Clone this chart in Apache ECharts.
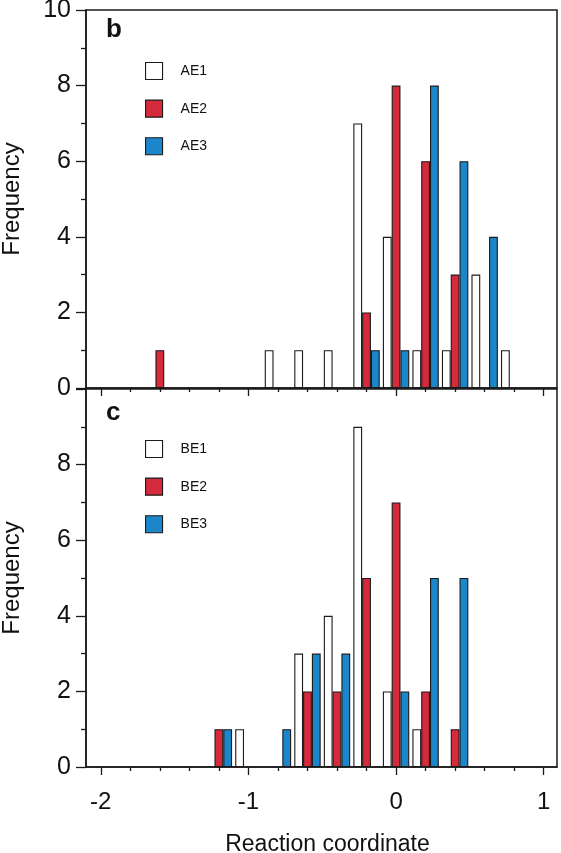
<!DOCTYPE html>
<html>
<head>
<meta charset="utf-8">
<script src="https://cdn.jsdelivr.net/npm/echarts@6/dist/echarts.min.js"></script>
<style>
html,body{margin:0;padding:0;background:#fff;}
#c{width:561px;height:853px;}
</style>
</head>
<body>
<div id="c"></div>
<script>
// ---- data (bin centres = reaction coordinate, counts = frequency) ----
const ae1Bins = [-0.8, -0.6, -0.4, -0.2, 0, 0.2, 0.4, 0.6, 0.8];
const ae1Counts = [1, 1, 1, 7, 4, 1, 1, 3, 1];
const ae2Bins = [-1.6, -0.2, 0, 0.2, 0.4];
const ae2Counts = [1, 2, 8, 6, 3];
const ae3Bins = [-0.2, 0, 0.2, 0.4, 0.6];
const ae3Counts = [1, 1, 8, 6, 4];

const be1Bins = [-1.0, -0.6, -0.4, -0.2, 0, 0.2];
const be1Counts = [1, 3, 4, 9, 2, 1];
const be2Bins = [-1.2, -0.6, -0.4, -0.2, 0, 0.2, 0.4];
const be2Counts = [1, 2, 2, 5, 7, 2, 1];
const be3Bins = [-1.2, -0.8, -0.6, -0.4, 0, 0.2, 0.4];
const be3Counts = [1, 1, 3, 3, 2, 5, 5];

const xMajorTicks = [-2, -1, 0, 1];
const xMinorTicks = [-1.8, -1.6, -1.4, -1.2, -0.8, -0.6, -0.4, -0.2, 0.2, 0.4, 0.6, 0.8];
const topNames = ['AE1', 'AE2', 'AE3'];
const bottomNames = ['BE1', 'BE2', 'BE3'];

// ---- styling ----
const FONT = "'Liberation Sans', Arial, Helvetica, sans-serif";
const INK = '#1a1a1a';
const FILLS = ['#ffffff', '#d52a3b', '#1c86cb'];
const X_MIN = -2.1, X_MAX = 1.09;

function pairs(bins, counts) { return bins.map((b, i) => [b, counts[i]]); }

function barSeries(name, bins, counts, idx, axisIdx) {
  return {
    name: name, type: 'bar',
    xAxisIndex: axisIdx, yAxisIndex: axisIdx,
    data: pairs(bins, counts),
    barWidth: 8.8, barGap: '0%',
    itemStyle: { color: FILLS[idx], borderColor: INK, borderWidth: 1.1 },
    emphasis: { disabled: true },
    animation: false
  };
}

function mainX(gridIdx, showLabels) {
  return {
    type: 'value', gridIndex: gridIdx, min: X_MIN, max: X_MAX, position: 'bottom',
    splitLine: { show: false },
    axisLine: { show: true, onZero: false, lineStyle: { color: INK, width: 1.5 } },
    axisTick: { show: true, inside: false, length: 8, customValues: xMajorTicks, lineStyle: { color: INK, width: 1.3 } },
    axisLabel: { show: showLabels, customValues: xMajorTicks, fontSize: 24, color: '#111', fontFamily: FONT, margin: 23,
      formatter: v => String(v) },
    name: showLabels ? 'Reaction coordinate' : '',
    nameLocation: 'middle', nameGap: 66,
    nameTextStyle: { fontSize: 23, color: '#111', fontFamily: FONT, padding: [0, 0, 0, 12] }
  };
}
function minorX(gridIdx) {
  return {
    type: 'value', gridIndex: gridIdx, min: X_MIN, max: X_MAX, position: 'bottom',
    splitLine: { show: false },
    axisLine: { show: false, onZero: false },
    axisTick: { show: true, inside: false, length: 4, customValues: xMinorTicks, lineStyle: { color: INK, width: 1.3 } },
    axisLabel: { show: false }
  };
}
function yAx(gridIdx, showMax) {
  return {
    type: 'value', gridIndex: gridIdx, min: 0, max: 10, interval: 2, position: 'left',
    splitLine: { show: false },
    axisLine: { show: true, onZero: false, lineStyle: { color: INK, width: 1.5 } },
    axisTick: { show: true, length: 10, lineStyle: { color: INK, width: 1.3 } },
    minorTick: { show: true, splitNumber: 2, length: 5, lineStyle: { color: INK, width: 1.3 } },
    axisLabel: { fontSize: 25, color: '#111', fontFamily: FONT, margin: 15, showMaxLabel: showMax },
    name: 'Frequency', nameLocation: 'middle', nameGap: 62,
    nameTextStyle: { fontSize: 24, color: '#111', fontFamily: FONT }
  };
}
function legend(names, top) {
  return {
    data: names, orient: 'vertical', left: 145, top: top, padding: 0,
    itemWidth: 17, itemHeight: 17, itemGap: 19.5, icon: 'rect',
    itemStyle: { borderColor: INK, borderWidth: 1.1 },
    textStyle: { fontSize: 14, color: '#111', fontFamily: FONT, padding: [0, 0, 0, 13] },
    selectedMode: false
  };
}

const chart = echarts.init(document.getElementById('c'), null, { renderer: 'canvas' });
chart.setOption({
  backgroundColor: '#ffffff',
  animation: false,
  title: [
    { text: 'b', left: 106, top: 17, padding: 0, textStyle: { fontSize: 26, fontWeight: 'bold', color: '#111', fontFamily: FONT } },
    { text: 'c', left: 106, top: 400, padding: 0, textStyle: { fontSize: 26, fontWeight: 'bold', color: '#111', fontFamily: FONT } }
  ],
  legend: [legend(topNames, 62), legend(bottomNames, 440)],
  grid: [
    { left: 86, top: 10, width: 471, height: 378, show: true, borderColor: INK, borderWidth: 1.5, backgroundColor: 'transparent', containLabel: false, outerBoundsMode: 'none' },
    { left: 86, top: 389, width: 471, height: 378, show: true, borderColor: INK, borderWidth: 1.5, backgroundColor: 'transparent', containLabel: false, outerBoundsMode: 'none' }
  ],
  xAxis: [mainX(0, false), mainX(1, true), minorX(0), minorX(1)],
  yAxis: [yAx(0, true), yAx(1, false)],
  series: [
    barSeries(topNames[0], ae1Bins, ae1Counts, 0, 0),
    barSeries(topNames[1], ae2Bins, ae2Counts, 1, 0),
    barSeries(topNames[2], ae3Bins, ae3Counts, 2, 0),
    barSeries(bottomNames[0], be1Bins, be1Counts, 0, 1),
    barSeries(bottomNames[1], be2Bins, be2Counts, 1, 1),
    barSeries(bottomNames[2], be3Bins, be3Counts, 2, 1)
  ]
});
</script>
</body>
</html>
